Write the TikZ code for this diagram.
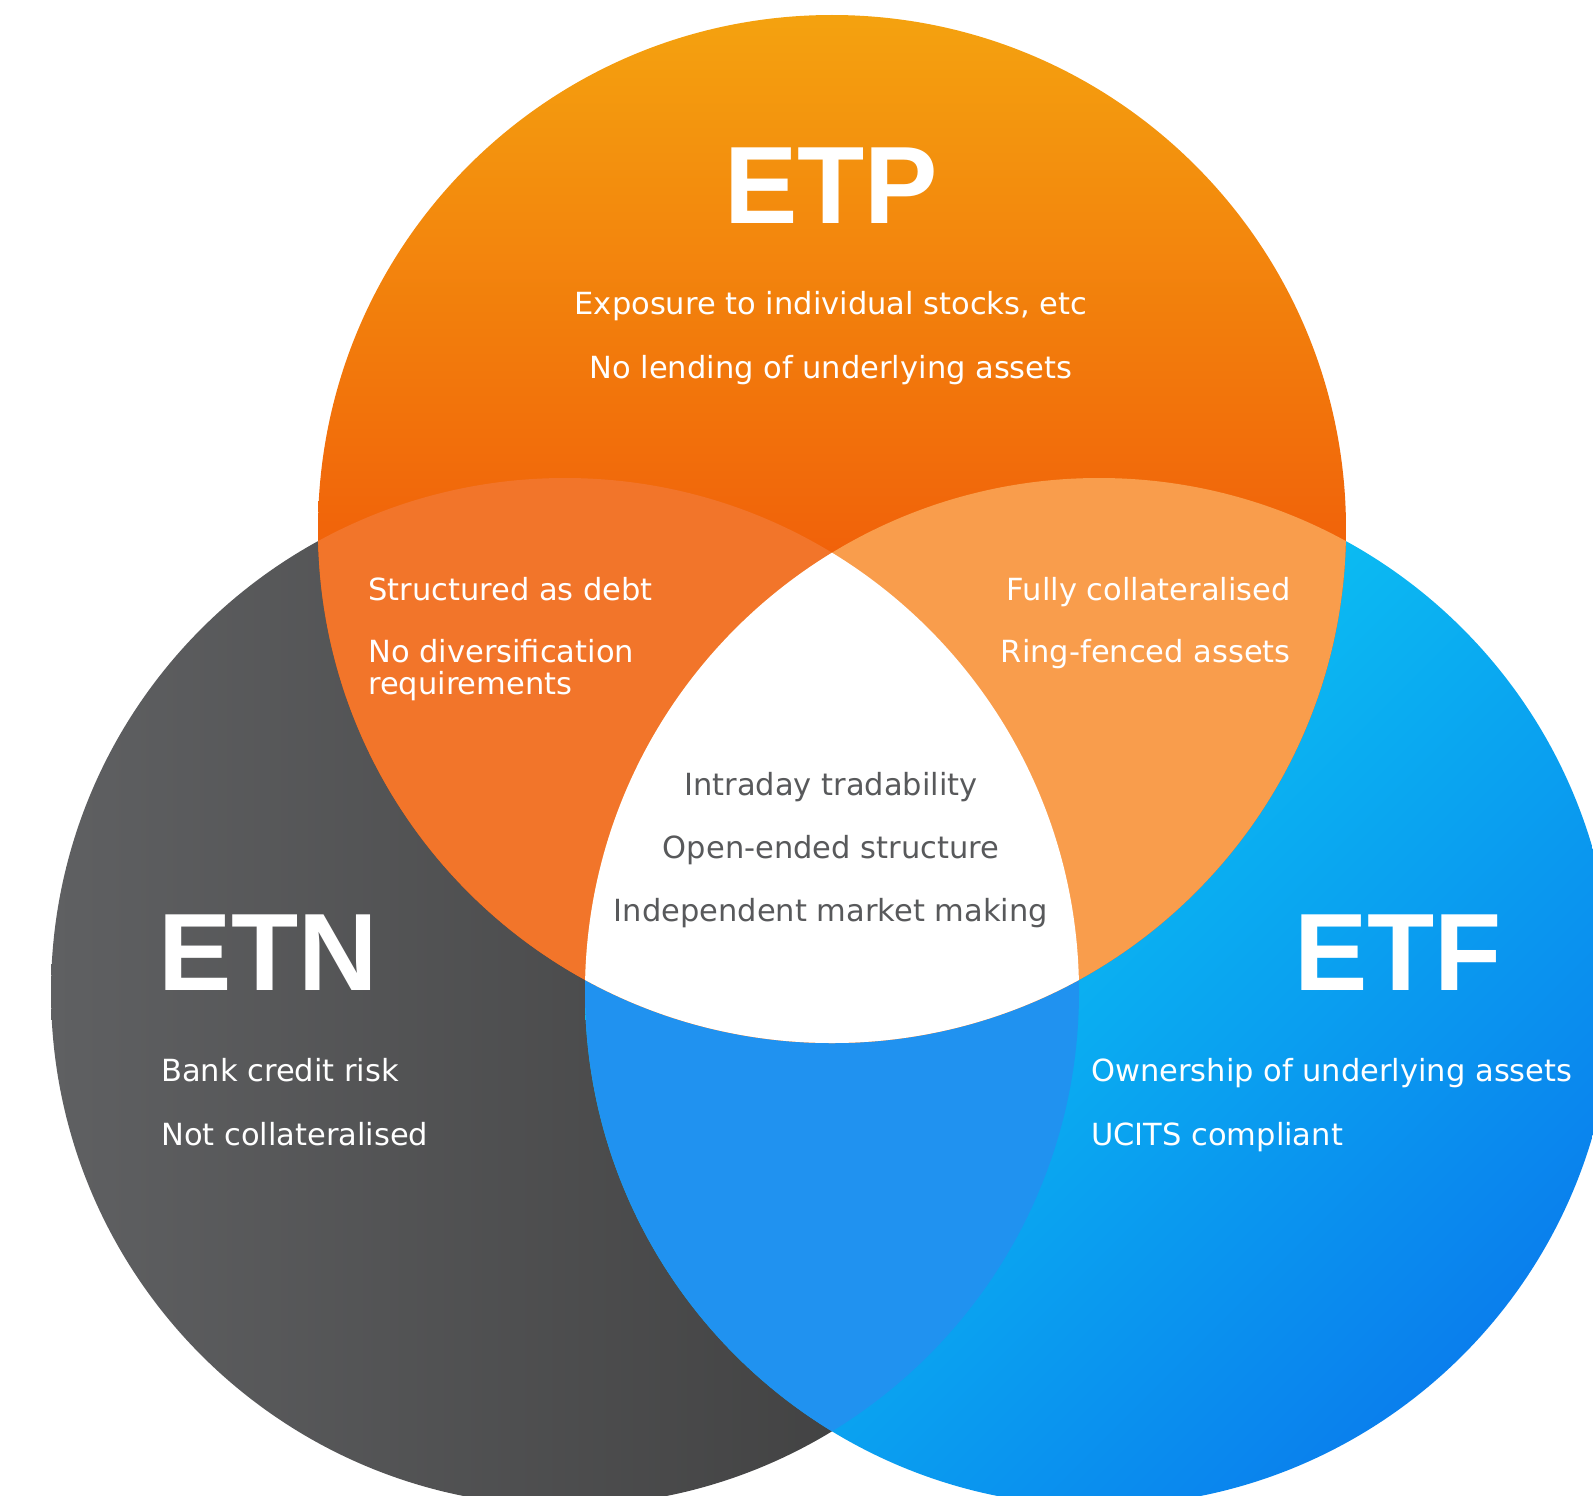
\documentclass[tikz,border=0pt]{standalone}
\usepackage{fontspec}
\setmainfont{DejaVu Sans}
\newfontfamily\titlefont{Liberation Sans}
\usetikzlibrary{positioning}
\definecolor{EtpTop}{HTML}{F4A20F}
\definecolor{EtpMid}{HTML}{F1620A}
\definecolor{EtnLeft}{HTML}{5F6062}
\definecolor{EtnRight}{HTML}{3A3A3A}
\definecolor{EtfTop}{HTML}{0BDCF5}
\definecolor{EtfBottom}{HTML}{0A7FED}
\definecolor{EtpEtn}{HTML}{F2752A}
\definecolor{EtpEtf}{HTML}{F99D4C}
\definecolor{EtnEtf}{HTML}{2092F0}
\definecolor{CoreGray}{HTML}{58595B}

\begin{document}
\begin{tikzpicture}[x=1pt, y=-1pt,
    title/.style={font=\titlefont\bfseries\fontsize{110}{110}\selectfont, text=white, inner sep=0pt},
    item/.style={font=\fontsize{30.5}{32}\selectfont, text=white, inner sep=0pt, align=left},
    core/.style={item, text=CoreGray}
]
    \useasboundingbox (0,0) rectangle (1593,1496);
    \clip (0,0) rectangle (1593,1496);
    \coordinate (cp) at (832,529);
    \coordinate (cn) at (565,992);
    \coordinate (cf) at (1099,992);

    % Circles
    \shade[left color=EtnLeft, right color=EtnRight] (cn) circle[radius=514pt];
    \begin{scope}
        \clip (cf) circle[radius=514pt];
        \shade[top color=EtfTop, bottom color=EtfBottom, shading angle=45] (585,478) rectangle (1613,1506);
    \end{scope}
    \begin{scope}
        \clip (cp) circle[radius=514pt];
        \shade[top color=EtpTop, bottom color=EtpMid] (318,15) rectangle (1346,550);
        \fill[EtpMid] (318,550) rectangle (1346,1043);
    \end{scope}

    % Overlaps
    \begin{scope}
        \clip (cn) circle[radius=514pt];
        \fill[EtnEtf] (cf) circle[radius=514pt];
    \end{scope}
    \begin{scope}
        \clip (cp) circle[radius=514pt];
        \fill[EtpEtn] (cn) circle[radius=514pt];
        \fill[EtpEtf] (cf) circle[radius=514pt];
        \clip (cn) circle[radius=514pt];
        \fill[white] (cf) circle[radius=514pt];
    \end{scope}

    % ETP
    \node[title, anchor=base] (etp) at (831,223) {ETP};
    \node[item, anchor=base] (etp1) at (831,314) {Exposure to individual stocks, etc};
    \node[item, anchor=base] (etp2) at (831,378) {No lending of underlying assets};

    % ETN
    \node[title, anchor=base west] (etn) at (158,990) {ETN};
    \node[item, anchor=base west] (etn1) at (161,1081) {Bank credit risk};
    \node[item, anchor=base west] (etn2) at (161,1145) {Not collateralised};

    % ETF
    \node[title, anchor=base west] (etf) at (1294,990) {ETF};
    \node[item, anchor=base west] (etf1) at (1091,1081) {Ownership of underlying assets};
    \node[item, anchor=base west] (etf2) at (1091,1145) {UCITS compliant};

    % ETP and ETN
    \node[item, anchor=base west] (pn1) at (368,600) {Structured as debt};
    \node[item, anchor=base west] (pn2) at (368,694) {No diversification\\requirements};

    % ETP and ETF
    \node[item, anchor=base east] (pf1) at (1291,600) {Fully collateralised};
    \node[item, anchor=base east] (pf2) at (1291,662) {Ring-fenced assets};

    % All three
    \node[core, anchor=base] (all1) at (831,795) {Intraday tradability};
    \node[core, anchor=base] (all2) at (831,858) {Open-ended structure};
    \node[core, anchor=base] (all3) at (831,921) {Independent market making};
\end{tikzpicture}
\end{document}
